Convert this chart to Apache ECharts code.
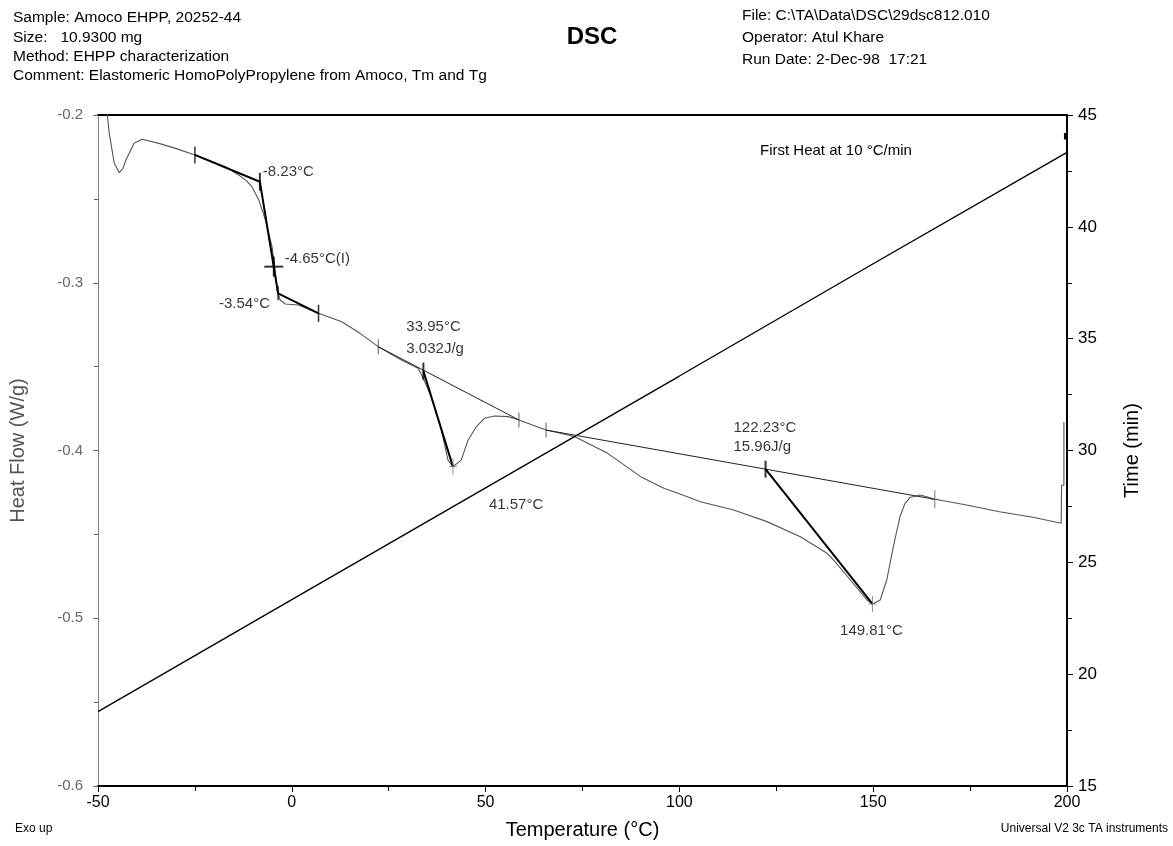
<!DOCTYPE html>
<html>
<head>
<meta charset="utf-8">
<script src="https://cdn.jsdelivr.net/npm/echarts@6/dist/echarts.min.js"></script>
<style>
  html, body { margin: 0; padding: 0; background: #fff; }
  #chart { width: 1173px; height: 846px; }
</style>
</head>
<body>
<div id="chart"></div>
<script>
// Heat flow trace, first heat at 10 °C/min: [temperature (°C), heat flow (W/g)]
const heatFlowCurve = [
  [-47.8, -0.190], [-47.6, -0.200], [-47.1, -0.2109], [-45.8, -0.2288], [-44.5, -0.2344],
  [-43.6, -0.2320], [-42.8, -0.2268], [-40.7, -0.2169], [-38.6, -0.2145], [-34.3, -0.2169],
  [-30.0, -0.2199], [-25.0, -0.2238], [-17.1, -0.2308], [-13.7, -0.2358], [-11.8, -0.2390],
  [-10.3, -0.2427], [-8.5, -0.2507], [-6.8, -0.2626], [-5.1, -0.2785], [-4.4, -0.2904],
  [-3.8, -0.3043], [-3.0, -0.3103], [-1.7, -0.3127], [1.7, -0.3133], [6.9, -0.3182],
  [12.9, -0.3232], [17.5, -0.3300], [22.3, -0.3381], [28.3, -0.3460], [32.6, -0.3510],
  [34.1, -0.3580], [36.0, -0.3680], [38.6, -0.3878], [40.3, -0.4057], [41.6, -0.4096],
  [43.7, -0.4057], [45.5, -0.3937], [47.6, -0.3858], [49.7, -0.3808], [52.3, -0.3794],
  [55.8, -0.3798], [58.6, -0.3818], [65.6, -0.3878], [72.9, -0.3917], [81.5, -0.4017],
  [90.0, -0.4156], [96.0, -0.4225], [100.5, -0.4262], [105.4, -0.4305], [114.0, -0.4355],
  [122.6, -0.4424], [131.2, -0.4514], [138.1, -0.4613], [139.8, -0.4653], [144.1, -0.4772],
  [148.4, -0.4891], [149.8, -0.4915], [151.8, -0.4891], [153.5, -0.4772], [155.2, -0.4573],
  [156.9, -0.4395], [158.2, -0.4315], [159.5, -0.4280], [162.1, -0.4265], [163.8, -0.4276],
  [165.9, -0.4291], [174.1, -0.4325], [182.6, -0.4365], [191.2, -0.4398], [198.5, -0.4434],
  [198.6, -0.4207], [199.2, -0.4207], [199.2, -0.3830]
];

// Elapsed time against sample temperature
const timeTemperature = [-50, 0, 50, 100, 150, 200];
const timeMinutes = [18.33, 23.33, 28.33, 33.33, 38.35, 43.33];
const holdMark = [[199.6, 43.9], [199.6, 44.2]];

// Glass transition: onset, inflection (I) and end temperatures
const tgOnset = -8.23;
const tgInflection = -4.65;
const tgEnd = -3.54;
const tgInflectionFlow = -0.2904;
// tangent construction through the step: start, onset, end, tangent end
const tgConstruction = [[-25.0, -0.2238], [tgOnset, -0.2398], [tgEnd, -0.3063], [6.9, -0.3182]];

// Melting endotherms
const peakOnsets = [33.95, 122.23];
const peakMaxima = [41.57, 149.81];
const peakEnthalpies = [3.032, 15.96];
const peakOnsetFlow = [-0.3527, -0.4111];
const peakMaxFlow = [-0.4096, -0.4915];
const peakBaselines = [
  [[22.3, -0.3381], [58.6, -0.3818]],
  [[65.6, -0.3878], [165.9, -0.4291]]
];

// Axis ticks
const tempTicks = { min: -50, max: 200, step: 50 };
const flowTicks = { min: -0.6, max: -0.2, step: 0.1 };
const timeTicks = { min: 15, max: 45, step: 5 };

const FONT = '"Liberation Sans", Arial, Helvetica, sans-serif';
const deg = '\u00B0C';

const chart = echarts.init(document.getElementById('chart'), null, { renderer: 'canvas' });

const blackLine = (data, width, extra) => Object.assign({
  type: 'line', data, showSymbol: false, silent: true, animation: false,
  lineStyle: { color: '#000', width }, z: 4
}, extra || {});

const tick = (data, size, color, extra) => Object.assign({
  type: 'scatter', data, symbol: 'rect', symbolSize: size, silent: true,
  itemStyle: { color }, z: 6
}, extra || {});

const textAt = (point, text, label) => ({
  type: 'scatter', data: [point], symbolSize: 0.1, silent: true,
  itemStyle: { color: 'rgba(0,0,0,0)' }, z: 7,
  label: Object.assign({
    show: true, formatter: text, color: '#000', fontFamily: FONT, fontSize: 15,
    lineHeight: 21
  }, label)
});

const tgOnsetPt = tgConstruction[1];
const tgEndPt = tgConstruction[2];
const p1On = [peakOnsets[0], peakOnsetFlow[0]];
const p1Max = [peakMaxima[0], peakMaxFlow[0]];
const p2On = [peakOnsets[1], peakOnsetFlow[1]];
const p2Max = [peakMaxima[1], peakMaxFlow[1]];

const option = {
  animation: false,
  backgroundColor: '#fff',
  textStyle: { fontFamily: FONT },
  grid: { left: 95, right: 106, top: 115, bottom: 60, containLabel: false },
  xAxis: [{
    type: 'value', min: tempTicks.min, max: tempTicks.max, interval: tempTicks.step,
    name: 'Temperature (' + deg + ')', nameLocation: 'middle', nameGap: 34,
    nameTextStyle: { fontSize: 20, color: '#000', fontFamily: FONT },
    axisLine: { show: true, onZero: false, lineStyle: { color: '#000', width: 2 } },
    axisTick: { show: true, length: 6, lineStyle: { color: '#000', width: 1 } },
    minorTick: { show: true, splitNumber: 2, length: 5, lineStyle: { color: '#000' } },
    axisLabel: { fontSize: 16, color: '#000', margin: 9, fontFamily: FONT },
    splitLine: { show: false }
  }, {
    type: 'value', position: 'top', min: tempTicks.min, max: tempTicks.max,
    axisLine: { show: true, onZero: false, lineStyle: { color: '#000', width: 2 } },
    axisTick: { show: false }, axisLabel: { show: false }, splitLine: { show: false }
  }],
  yAxis: [{
    type: 'value', position: 'left', min: flowTicks.min, max: flowTicks.max, interval: flowTicks.step,
    name: 'Heat Flow (W/g)', nameLocation: 'middle', nameGap: 70, nameRotate: 90,
    nameTextStyle: { fontSize: 20, color: '#555', fontFamily: FONT },
    axisLine: { show: true, onZero: false, lineStyle: { color: '#666', width: 1, type: 'dotted' } },
    axisTick: { show: true, length: 5, lineStyle: { color: '#666' } },
    minorTick: { show: true, splitNumber: 2, length: 4, lineStyle: { color: '#666' } },
    axisLabel: { fontSize: 15, color: '#666', margin: 15, fontFamily: FONT },
    splitLine: { show: false }
  }, {
    type: 'value', position: 'right', min: timeTicks.min, max: timeTicks.max, interval: timeTicks.step,
    name: 'Time (min)', nameLocation: 'middle', nameGap: 55, nameRotate: 90,
    nameTextStyle: { fontSize: 20, color: '#000', fontFamily: FONT },
    axisLine: { show: true, onZero: false, lineStyle: { color: '#000', width: 2 } },
    axisTick: { show: true, length: 6, lineStyle: { color: '#000' } },
    minorTick: { show: true, splitNumber: 2, length: 5, lineStyle: { color: '#000' } },
    axisLabel: { fontSize: 17, color: '#000', margin: 11, fontFamily: FONT },
    splitLine: { show: false }
  }],
  series: [
    // heat flow signal
    { type: 'line', data: heatFlowCurve, showSymbol: false, silent: true, clip: true,
      lineStyle: { color: '#555', width: 1.1 }, z: 3 },
    // time signal on the right axis
    { type: 'line', yAxisIndex: 1, data: timeTemperature.map((t, i) => [t, timeMinutes[i]]),
      showSymbol: false, silent: true, lineStyle: { color: '#000', width: 1.4 }, z: 3 },
    { type: 'line', yAxisIndex: 1, data: holdMark, showSymbol: false, silent: true,
      lineStyle: { color: '#000', width: 3 }, z: 3 },

    // glass transition tangents
    blackLine(tgConstruction, 2),
    // integration baselines
    blackLine(peakBaselines[0], 1, { lineStyle: { color: '#222', width: 1 } }),
    blackLine(peakBaselines[1], 1, { lineStyle: { color: '#222', width: 1 } }),
    // onset-to-peak lines
    blackLine([p1On, p1Max], 2),
    blackLine([p2On, p2Max], 2),

    // limit and onset ticks
    tick([tgConstruction[0], tgConstruction[3]], [1.5, 17], '#000'),
    tick([tgOnsetPt], [2, 18], '#000'),
    tick([tgEndPt], [1.5, 14], '#000'),
    tick([[tgInflection, tgInflectionFlow]], [2, 20], '#000'),
    tick([[tgInflection, tgInflectionFlow]], [19, 2], '#000'),
    tick([peakBaselines[0][0], peakBaselines[0][1], peakBaselines[1][0]], [1, 15], '#333'),
    tick([peakBaselines[1][1]], [1, 18], '#555'),
    tick([peakBaselines[1][1]], [8, 1], '#555'),
    tick([p1On, p2On], [2, 17], '#000'),
    tick([p1Max, p2Max], [1, 16], '#777'),
    tick([p1Max, p2Max], [8, 1], '#777'),

    // result labels
    textAt(tgOnsetPt, tgOnset.toFixed(2) + deg, { position: [3, -10], align: 'left', verticalAlign: 'middle' }),
    textAt([tgInflection, tgInflectionFlow], tgInflection.toFixed(2) + deg + '(I)',
      { position: [11, -8], align: 'left', verticalAlign: 'middle' }),
    textAt(tgEndPt, tgEnd.toFixed(2) + deg, { position: [-8, 11], align: 'right', verticalAlign: 'middle' }),
    textAt(p1On, peakOnsets[0].toFixed(2) + deg + '\n' + peakEnthalpies[0].toFixed(3) + 'J/g',
      { position: [-17, -33], align: 'left', verticalAlign: 'middle', lineHeight: 22 }),
    textAt(p1Max, peakMaxima[0].toFixed(2) + deg, { position: [36, 38], align: 'left', verticalAlign: 'middle' }),
    textAt(p2On, peakOnsets[1].toFixed(2) + deg + '\n' + peakEnthalpies[1].toFixed(2) + 'J/g',
      { position: [-32, -32], align: 'left', verticalAlign: 'middle', lineHeight: 19 }),
    textAt(p2Max, peakMaxima[1].toFixed(2) + deg, { position: [-1, 27], align: 'center', verticalAlign: 'middle' })
  ],
  graphic: [
    { type: 'text', x: 13, y: 18, style: { text: 'Sample: Amoco EHPP, 20252-44', font: '15.5px ' + FONT, fill: '#000', verticalAlign: 'middle' } },
    { type: 'text', x: 13, y: 38, style: { text: 'Size:   10.9300 mg', font: '15.5px ' + FONT, fill: '#000', verticalAlign: 'middle' } },
    { type: 'text', x: 13, y: 57, style: { text: 'Method: EHPP characterization', font: '15.5px ' + FONT, fill: '#000', verticalAlign: 'middle' } },
    { type: 'text', x: 13, y: 76, style: { text: 'Comment: Elastomeric HomoPolyPropylene from Amoco, Tm and Tg', font: '15.5px ' + FONT, fill: '#000', verticalAlign: 'middle' } },
    { type: 'text', x: 742, y: 16, style: { text: 'File: C:\\TA\\Data\\DSC\\29dsc812.010', font: '15.5px ' + FONT, fill: '#000', verticalAlign: 'middle' } },
    { type: 'text', x: 742, y: 38, style: { text: 'Operator: Atul Khare', font: '15.5px ' + FONT, fill: '#000', verticalAlign: 'middle' } },
    { type: 'text', x: 742, y: 60, style: { text: 'Run Date: 2-Dec-98  17:21', font: '15.5px ' + FONT, fill: '#000', verticalAlign: 'middle' } },
    { type: 'text', x: 592, y: 37, style: { text: 'DSC', font: 'bold 24px ' + FONT, fill: '#000', align: 'center', verticalAlign: 'middle' } },
    { type: 'text', x: 760, y: 151, style: { text: 'First Heat at 10 ' + deg + '/min', font: '15px ' + FONT, fill: '#000', verticalAlign: 'middle' } },
    { type: 'text', x: 15, y: 829, style: { text: 'Exo up', font: '12px ' + FONT, fill: '#000', verticalAlign: 'middle' } },
    { type: 'text', x: 1168, y: 829, style: { text: 'Universal V2 3c TA instruments', font: '12px ' + FONT, fill: '#000', align: 'right', verticalAlign: 'middle' } }
  ]
};

chart.setOption(option);
</script>
</body>
</html>
